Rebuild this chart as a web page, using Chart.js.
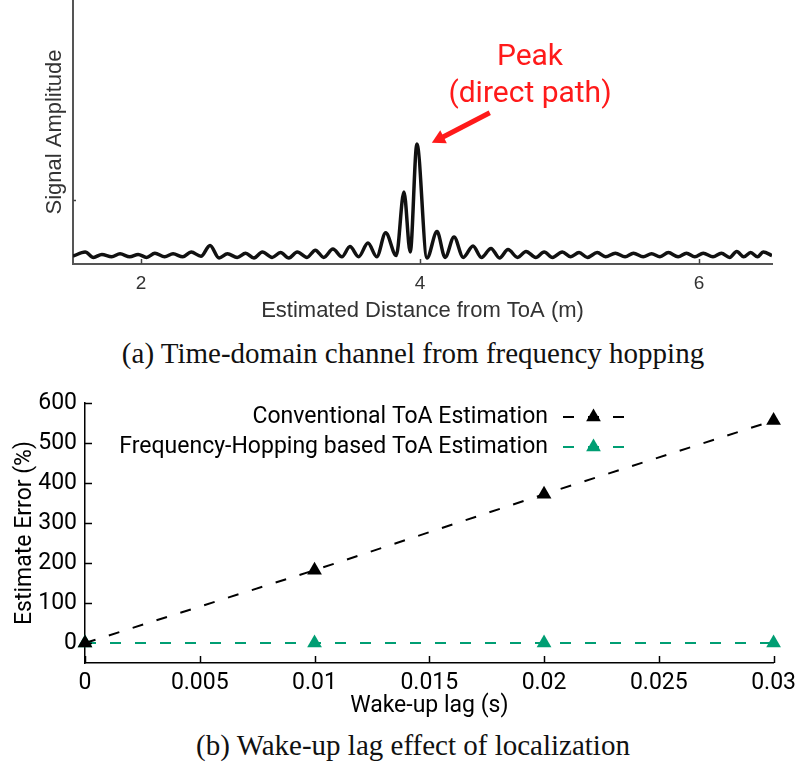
<!DOCTYPE html>
<html>
<head>
<meta charset="utf-8">
<script src="https://cdn.jsdelivr.net/npm/chart.js@4.4.1/dist/chart.umd.min.js"></script>
<style>
  body { margin: 0; background: #fff; width: 802px; height: 765px; position: relative; overflow: hidden; }
  .box { position: absolute; left: 0; width: 802px; }
  .cap { position: absolute; left: 12px; width: 802px; text-align: center; font-family: 'Liberation Serif', serif; font-size: 29px; line-height: 34px; color: #111; }
  .note { position: absolute; color: #ff1a1a; font-family: Roboto, sans-serif; font-size: 30px; text-align: center; line-height: 37px; }
</style>
</head>
<body>
<div class="box" style="top:0;height:330px"><canvas id="timeDomain" width="802" height="330"></canvas></div>
<div class="note" style="left:430px;top:36px;width:200px">Peak<br>(direct path)</div>
<div class="cap" style="top:336px">(a) Time-domain channel from frequency hopping</div>
<div class="box" style="top:380px;height:345px"><canvas id="wakeLag" width="802" height="345"></canvas></div>
<div class="cap" style="top:728px">(b) Wake-up lag effect of localization</div>

<script>
// (a) time-domain channel (peaks and troughs)
const distance = [
  1.513, 1.60, 1.66, 1.72, 1.79, 1.85, 1.92, 1.98, 2.04, 2.10, 2.17, 2.23, 2.30, 2.36, 2.43, 2.495,
  2.56, 2.62, 2.69, 2.75, 2.81, 2.87, 2.94, 3.00, 3.06, 3.12, 3.19, 3.25, 3.31, 3.376, 3.44, 3.498,
  3.56, 3.627, 3.69, 3.754, 3.83, 3.885, 3.93, 3.978, 4.05, 4.122, 4.18, 4.244, 4.31, 4.38, 4.44,
  4.509, 4.57, 4.631, 4.70, 4.76, 4.83, 4.89, 4.95, 5.02, 5.08, 5.14, 5.20, 5.27, 5.33, 5.40, 5.47,
  5.53, 5.60, 5.66, 5.72, 5.78, 5.85, 5.91, 5.97, 6.03, 6.10, 6.16, 6.22, 6.27, 6.32, 6.37, 6.42,
  6.46, 6.523
];
const amplitude = [
  0.065, 0.10, 0.055, 0.08, 0.06, 0.085, 0.06, 0.08, 0.055, 0.09, 0.06, 0.085, 0.06, 0.10, 0.065, 0.155,
  0.05, 0.085, 0.055, 0.09, 0.05, 0.10, 0.055, 0.095, 0.05, 0.10, 0.055, 0.115, 0.055, 0.125, 0.06, 0.145,
  0.06, 0.175, 0.06, 0.26, 0.07, 0.60, 0.10, 1.00, 0.05, 0.27, 0.055, 0.225, 0.055, 0.15, 0.055,
  0.13, 0.05, 0.12, 0.055, 0.105, 0.055, 0.10, 0.055, 0.10, 0.06, 0.095, 0.055, 0.095, 0.06, 0.09, 0.06,
  0.09, 0.06, 0.085, 0.06, 0.095, 0.06, 0.09, 0.06, 0.09, 0.06, 0.09, 0.055, 0.105, 0.06, 0.095, 0.06,
  0.10, 0.07
];
const distTicks = [2, 4, 6];
const ampTicks = [0.53];

// (b) wake-up lag effect
const wakeLag = [0, 0.01, 0.02, 0.03];
const convError = [0, 182, 372, 556];
const hopError = [0, 0, 0, 0];
const lagTicks = [0, 0.005, 0.01, 0.015, 0.02, 0.025, 0.03];
const errorTicks = [0, 100, 200, 300, 400, 500, 600];

// ticks pointing into the plot
const inwardTicks = {
  id: 'inwardTicks',
  afterDraw(chart, args, opts) {
    const ctx = chart.ctx;
    const area = chart.chartArea;
    ctx.save();
    ctx.strokeStyle = opts.color;
    ctx.lineWidth = opts.width;
    const sx = chart.scales.x, sy = chart.scales.y;
    sx.ticks.forEach(t => {
      const px = Math.round(sx.getPixelForValue(t.value)) + 0.5;
      ctx.beginPath();
      ctx.moveTo(px, area.bottom);
      ctx.lineTo(px, area.bottom - opts.xLen);
      ctx.stroke();
    });
    sy.ticks.forEach(t => {
      const py = Math.round(sy.getPixelForValue(t.value)) + 0.5;
      ctx.beginPath();
      ctx.moveTo(area.left, py);
      ctx.lineTo(area.left + opts.yLen, py);
      ctx.stroke();
    });
    ctx.restore();
  }
};

const peakArrow = {
  id: 'peakArrow',
  afterDatasetsDraw(chart, args, o) {
    const sx = chart.scales.x, sy = chart.scales.y;
    const x1 = sx.getPixelForValue(o.from[0]), y1 = sy.getPixelForValue(o.from[1]);
    const x2 = sx.getPixelForValue(o.to[0]), y2 = sy.getPixelForValue(o.to[1]);
    const ang = Math.atan2(y2 - y1, x2 - x1);
    const head = 15;
    const ctx = chart.ctx;
    ctx.save();
    ctx.strokeStyle = o.color;
    ctx.fillStyle = o.color;
    ctx.lineWidth = 5;
    ctx.beginPath();
    ctx.moveTo(x1, y1);
    ctx.lineTo(x2 - Math.cos(ang) * head * 0.8, y2 - Math.sin(ang) * head * 0.8);
    ctx.stroke();
    ctx.beginPath();
    ctx.moveTo(x2, y2);
    ctx.lineTo(x2 - Math.cos(ang - 0.5) * head, y2 - Math.sin(ang - 0.5) * head);
    ctx.lineTo(x2 - Math.cos(ang + 0.5) * head, y2 - Math.sin(ang + 0.5) * head);
    ctx.closePath();
    ctx.fill();
    ctx.restore();
  }
};

function triangle(ctx, x, y, r) {
  ctx.beginPath();
  ctx.moveTo(x, y - r);
  ctx.lineTo(x + r * 0.866, y + r / 2);
  ctx.lineTo(x - r * 0.866, y + r / 2);
  ctx.closePath();
  ctx.fill();
}

const lineLegend = {
  id: 'lineLegend',
  afterDatasetsDraw(chart, args, o) {
    const ctx = chart.ctx;
    chart.data.datasets.forEach((ds, i) => {
      const y = o.top + i * o.gap;
      ctx.save();
      ctx.font = o.font;
      ctx.fillStyle = '#000';
      ctx.textAlign = 'right';
      ctx.textBaseline = 'middle';
      ctx.fillText(ds.label, o.textRight, y);
      ctx.strokeStyle = ds.borderColor;
      ctx.lineWidth = ds.borderWidth;
      ctx.setLineDash(ds.borderDash);
      ctx.beginPath();
      ctx.moveTo(o.lineStart, y);
      ctx.lineTo(o.lineEnd, y);
      ctx.stroke();
      ctx.fillStyle = ds.pointBackgroundColor;
      triangle(ctx, (o.lineStart + o.lineEnd) / 2, y, ds.pointRadius);
      ctx.restore();
    });
  }
};

new Chart(document.getElementById('timeDomain'), {
  type: 'line',
  data: {
    datasets: [{
      data: distance.map((d, i) => ({ x: d, y: amplitude[i] })),
      borderColor: '#111',
      borderWidth: 3.5,
      pointRadius: 0,
      cubicInterpolationMode: 'monotone',
      fill: false
    }]
  },
  options: {
    responsive: false,
    animation: false,
    layout: { padding: { top: 0, right: 30, bottom: 0, left: 0 } },
    plugins: {
      legend: { display: false },
      tooltip: { enabled: false },
      inwardTicks: { color: '#444', width: 1.5, xLen: 5, yLen: 3 },
      peakArrow: { from: [4.50, 1.26], to: [4.085, 1.01], color: '#ff1a1a' }
    },
    scales: {
      x: {
        type: 'linear',
        min: 1.513,
        max: 6.523,
        afterBuildTicks: s => { s.ticks = distTicks.map(v => ({ value: v })); },
        afterFit: s => { s.height = 66; },
        grid: { display: false, drawTicks: false },
        border: { color: '#555', width: 2 },
        ticks: { font: { family: 'Liberation Sans', size: 19 }, color: '#333', padding: 8, maxRotation: 0 },
        title: { display: true, text: 'Estimated Distance from ToA (m)', font: { family: 'Liberation Sans', size: 22 }, color: '#333', padding: { bottom: 6 } }
      },
      y: {
        min: 0,
        max: 2.2,
        afterBuildTicks: s => { s.ticks = ampTicks.map(v => ({ value: v })); },
        afterFit: s => { s.width = 73; },
        grid: { display: false, drawTicks: false },
        border: { color: '#555', width: 2 },
        ticks: { display: false },
        title: { display: true, text: 'Signal Amplitude', font: { family: 'Liberation Sans', size: 22 }, color: '#333', padding: { top: 42 } }
      }
    }
  },
  plugins: [inwardTicks, peakArrow]
});

const tickFont = { family: 'Roboto', size: 23 };

new Chart(document.getElementById('wakeLag'), {
  type: 'line',
  data: {
    datasets: [{
      label: 'Conventional ToA Estimation',
      data: wakeLag.map((x, i) => ({ x: x, y: convError[i] })),
      borderColor: '#000',
      borderWidth: 2,
      borderDash: [11, 14],
      pointStyle: 'triangle',
      pointRadius: 8.5,
      pointBackgroundColor: '#000',
      pointBorderWidth: 0,
      clip: false
    }, {
      label: 'Frequency-Hopping based ToA Estimation',
      data: wakeLag.map((x, i) => ({ x: x, y: hopError[i] })),
      borderColor: '#009e73',
      borderWidth: 2,
      borderDash: [11, 14],
      pointStyle: 'triangle',
      pointRadius: 8.5,
      pointBackgroundColor: '#009e73',
      pointBorderWidth: 0,
      clip: false
    }]
  },
  options: {
    responsive: false,
    animation: false,
    layout: { padding: { top: 23, right: 27, bottom: 0, left: 0 } },
    plugins: {
      legend: { display: false },
      tooltip: { enabled: false },
      inwardTicks: { color: '#000', width: 1.5, xLen: 7, yLen: 7 },
      lineLegend: { font: '23px Roboto', top: 37, gap: 30, textRight: 548, lineStart: 563, lineEnd: 624 }
    },
    scales: {
      x: {
        type: 'linear',
        min: 0,
        max: 0.03,
        afterBuildTicks: s => { s.ticks = lagTicks.map(v => ({ value: v })); },
        afterFit: s => { s.height = 62; },
        grid: { display: false, drawTicks: false },
        border: { color: '#000', width: 1.5 },
        ticks: { font: tickFont, color: '#000', padding: 6, maxRotation: 0, callback: v => String(+v.toFixed(3)) },
        title: { display: true, text: 'Wake-up lag (s)', font: tickFont, color: '#000', padding: { bottom: 5 } }
      },
      y: {
        min: -50,
        max: 600,
        afterBuildTicks: s => { s.ticks = errorTicks.map(v => ({ value: v })); },
        afterFit: s => { s.width = 85; },
        grid: { display: false, drawTicks: false },
        border: { color: '#000', width: 1.5 },
        ticks: { font: tickFont, color: '#000', padding: 8 },
        title: { display: true, text: 'Estimate Error (%)', font: tickFont, color: '#000', padding: { top: 11 } }
      }
    }
  },
  plugins: [inwardTicks, lineLegend]
});
</script>
</body>
</html>
